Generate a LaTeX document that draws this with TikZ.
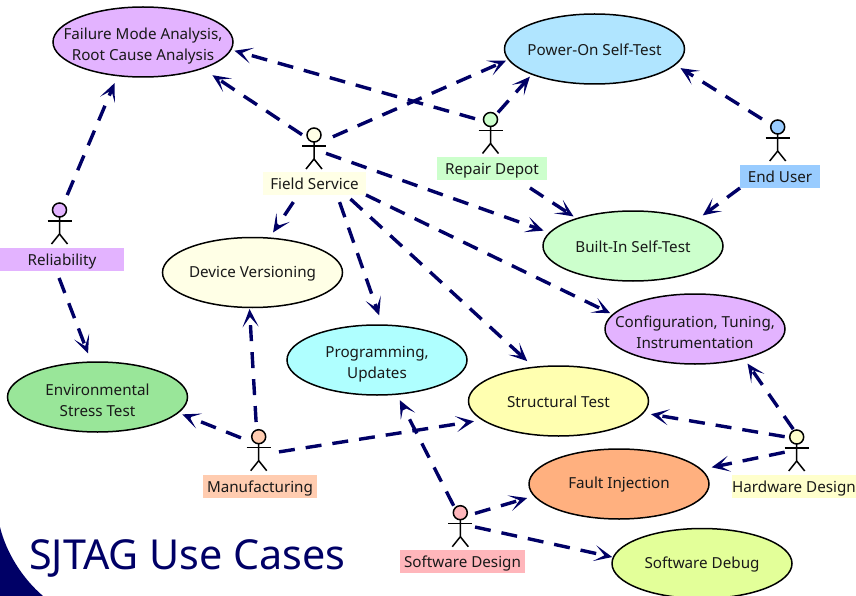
\documentclass[tikz,border=0pt]{standalone}
\usepackage{fontspec}
\setmainfont{Noto Sans}
\usetikzlibrary{shapes.geometric,arrows.meta}
\definecolor{navy}{HTML}{000066}
\definecolor{cLilac}{HTML}{E3B3FF}
\definecolor{cSky}{HTML}{B0E5FF}
\definecolor{cMint}{HTML}{CCFFCC}
\definecolor{cLemon}{HTML}{FFFFB0}
\definecolor{cOrange}{HTML}{FFB07F}
\definecolor{cLime}{HTML}{E3FF99}
\definecolor{cGreen}{HTML}{99E699}
\definecolor{cCyan}{HTML}{AFFFFF}
\definecolor{cCream}{HTML}{FFFFE6}
\definecolor{cBlue}{HTML}{99CCFF}
\definecolor{cPeach}{HTML}{FFCCB0}
\definecolor{cPale}{HTML}{FFFFCC}
\definecolor{cPink}{HTML}{FFB6BB}
\newcommand{\lowerline}{\rule{0pt}{19pt}}
\tikzset{
  usecase/.style={ellipse,draw=black,line width=1.5pt,minimum width=180pt,minimum height=70pt,inner xsep=-30pt,inner ysep=0pt,outer sep=0pt,align=center,font=\fontsize{15.2}{21}\selectfont,text=black!90},
  oneline/.style={execute at begin node={\rule{0pt}{13pt}}},
  actorbox/.style={rectangle,minimum width=24pt,minimum height=41pt,inner sep=0pt,outer sep=0pt},
  tag/.style={rectangle,minimum height=23pt,inner sep=0pt,outer sep=0pt,text height=14pt,text depth=2pt,font=\fontsize{15.2}{16}\selectfont,text=black!90},
  stick/.style={draw=black,line width=1.5pt},
  flow/.style={draw=navy,line width=3.4pt,dash pattern=on 16pt off 11pt,-{Stealth[length=18pt,width=16pt,inset=10pt]}},
}
% #1 name, #2 x, #3 y of box centre, #4 colour
\newcommand{\stickman}[4]{%
  \node[actorbox] (#1) at (#2,#3) {};
  \draw[stick,fill=#4] (#2,#3-13.5) circle[radius=7pt];
  \draw[stick] (#2-12,#3-2.5) -- (#2+12,#3-2.5);
  \draw[stick] (#2,#3-6.5) -- (#2,#3+10.5) -- (#2-8,#3+20.5);
  \draw[stick] (#2,#3+10.5) -- (#2+8,#3+20.5);
}
\begin{document}
\begin{tikzpicture}[x=1pt,y=-1pt]
\useasboundingbox (0,0) rectangle (856,596);
\fill[white] (0,0) rectangle (856,596);
\fill[navy] (0,527) .. controls (6,552) and (22,578) .. (43,596) -- (0,596) -- cycle;
\node[anchor=base west,inner sep=0pt,text=navy,font=\fontsize{41.3}{41}\selectfont] (title) at (29,569) {SJTAG Use Cases};

\node[usecase,fill=cLilac] (failure) at (143,42) {\lowerline Failure Mode Analysis,\\Root Cause Analysis};
\node[usecase,oneline,fill=cSky] (post) at (594.5,49) {Power-On Self-Test};
\node[usecase,oneline,fill=cMint] (bist) at (633,246) {Built-In Self-Test};
\node[usecase,fill=cLilac] (config) at (695,329) {\lowerline Configuration, Tuning,\\Instrumentation};
\node[usecase,oneline,fill=cLemon] (structural) at (558.5,401) {Structural Test};
\node[usecase,oneline,fill=cOrange] (fault) at (619,484) {Fault Injection};
\node[usecase,oneline,fill=cLime] (debug) at (702,563.5) {Software Debug};
\node[usecase,fill=cGreen] (env) at (97.5,397) {\lowerline Environmental\\Stress Test};
\node[usecase,fill=cCyan] (prog) at (377,360) {\lowerline Programming,\\Updates};
\node[usecase,oneline,fill=cCream] (device) at (252.5,272.5) {Device Versioning};

\stickman{afield}{314}{148.5}{cCream}
\stickman{arel}{59.5}{223.5}{cLilac}
\stickman{arep}{490.5}{133}{cMint}
\stickman{aend}{777.7}{140.5}{cBlue}
\stickman{amfg}{258.7}{450.2}{cPeach}
\stickman{ahw}{796.7}{450.5}{cPale}
\stickman{asw}{460.3}{526.2}{cPink}

\node[tag,fill=cCream,minimum width=103pt] (lfield) at (314.5,183.5) {Field Service};
\node[tag,fill=cLilac,minimum width=124pt] (lrel) at (62,259.5) {Reliability};
\node[tag,fill=cMint,minimum width=110pt] (lrep) at (492,168.5) {Repair Depot};
\node[tag,fill=cBlue,minimum width=80pt] (lend) at (780,176.5) {End User};
\node[tag,fill=cPeach,minimum width=114pt] (lmfg) at (260,486.5) {Manufacturing};
\node[tag,fill=cPale,minimum width=124pt] (lhw) at (794,486.5) {Hardware Design};
\node[tag,fill=cPink,minimum width=125pt] (lsw) at (462.5,561.5) {Software Design};

\draw[flow,shorten >=12.3pt] (afield.131.6) -- (failure.-24.9);
\draw[flow,shorten <=3.6pt,shorten >=3.8pt] (arep.132.7) -- (failure.-5.6);
\draw[flow,shorten <=8.6pt,shorten >=8.2pt] (arel.78.2) -- (failure.-127.8);
\draw[flow,shorten <=7.5pt,shorten >=3pt] (afield.36.9) -- (post.-173.6);
\draw[flow,shorten >=3.3pt] (arep.70.9) -- (post.-158.6);
\draw[flow,shorten <=4.4pt,shorten >=6.5pt] (aend.122) -- (post.-11.9);
\draw[flow,shorten >=9.1pt] (lend.south west) -- (bist.22.5);
\draw[flow,shorten <=14.5pt,shorten >=4pt] (lrep.-24.8) -- (bist.154.2);
\draw[flow,shorten >=6.5pt] (afield.-22.2) -- (bist.171.2);
\draw[flow,shorten >=3.1pt] (lfield.south east) -- (config.170);
\draw[flow,shorten <=1pt,shorten >=6.3pt] (ahw.98.3) -- (config.-31.9);
\draw[flow,shorten <=5.9pt,shorten >=9.2pt] (lfield.-20.3) -- (structural.126.6);
\draw[flow,shorten <=8.4pt,shorten >=8.9pt] (amfg.-14.5) -- (structural.-166);
\draw[flow,shorten >=7.9pt] (ahw.131.6) -- (structural.-8);
\draw[flow,shorten <=7.5pt,shorten >=10.2pt] (lfield.-27.9) -- (prog.81.2);
\draw[flow,shorten >=6.7pt] (asw.108.6) -- (prog.-60.1);
\draw[flow,shorten <=8.5pt,shorten >=6.8pt] (lfield.-145.3) -- (device.64.3);
\draw[flow,shorten <=7.7pt,shorten >=1.5pt] (amfg.96.1) -- (device.-95.5);
\draw[flow,shorten <=7.5pt,shorten >=9.2pt] (lrel.-116.8) -- (env.100.9);
\draw[flow,shorten <=6.2pt,shorten >=4.6pt] (amfg.140.5) -- (env.-11.4);
\draw[flow,shorten >=10.9pt] (ahw.-172.9) -- (fault.10.5);
\draw[flow,shorten <=2.8pt,shorten >=7.5pt] (asw.45.9) -- (fault.-172);
\draw[flow,shorten <=2.8pt,shorten >=1.2pt] (asw.-1) -- (debug.176.5);
\end{tikzpicture}
\end{document}
